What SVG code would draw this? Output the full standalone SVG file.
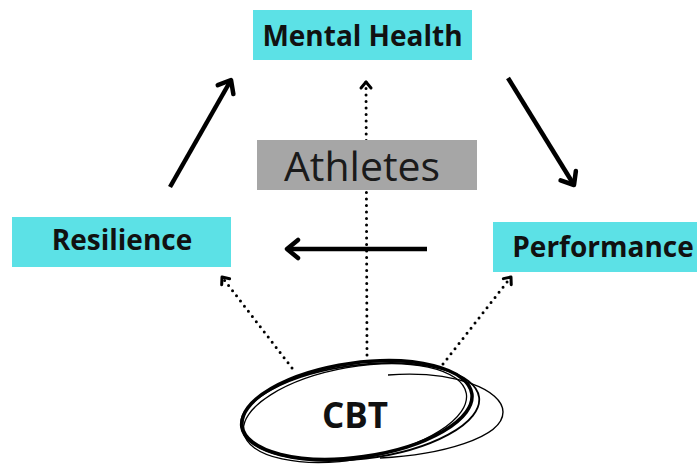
<svg xmlns="http://www.w3.org/2000/svg" width="700" height="465" viewBox="0 0 700 465">
<style>
.box{fill:#5ce1e6;}
.lbl{font-family:"Open Sans","Liberation Sans",sans-serif;font-weight:700;fill:#111;text-anchor:middle;}
.solid{stroke:#000;stroke-width:4.5;fill:none;stroke-linecap:butt;}
.dot{stroke:#000;stroke-width:3;fill:none;stroke-linecap:round;stroke-dasharray:0 6.5;}
.sk{fill:none;stroke:#000;}
</style>
<defs>
<marker id="ah" markerUnits="userSpaceOnUse" viewBox="-14 -12 18 24" markerWidth="18" markerHeight="24" refX="0" refY="0" orient="auto" overflow="visible">
<path d="M-11 -9 L0 0 L-11 9" fill="none" stroke="#000" stroke-width="4.5" stroke-linecap="round" stroke-linejoin="round"/>
</marker>
<marker id="ad" markerUnits="userSpaceOnUse" viewBox="-8 -6 10 12" markerWidth="10" markerHeight="12" refX="0" refY="0" orient="auto" overflow="visible">
<path d="M-6 -5 L0 0 L-6 5" fill="none" stroke="#000" stroke-width="3" stroke-linecap="round" stroke-linejoin="round"/>
</marker>
</defs>
<rect width="700" height="465" fill="#fff"/>
<g id="connectors">
<line class="solid" x1="170" y1="187" x2="231" y2="80" marker-end="url(#ah)"/>
<line class="solid" x1="508" y1="78" x2="574" y2="185" marker-end="url(#ah)"/>
<line class="solid" x1="427" y1="249" x2="287" y2="249" marker-end="url(#ah)"/>
<line class="dot" x1="367" y1="355" x2="366" y2="82" marker-end="url(#ad)"/>
<line class="dot" x1="292" y1="368" x2="222" y2="277" marker-end="url(#ad)"/>
<line class="dot" x1="443" y1="364" x2="511" y2="277" marker-end="url(#ad)"/>
</g>
<g id="mental-health">
<rect class="box" x="253" y="10" width="219" height="50"/>
<text class="lbl" x="362.5" y="46" font-size="28">Mental Health</text>
</g>
<g id="athletes">
<rect x="257" y="140" width="220" height="50" fill="#a6a6a6"/>
<text x="362" y="181" font-family="'Open Sans','Liberation Sans',sans-serif" font-size="41" fill="#1a1a1a" text-anchor="middle">Athletes</text>
</g>
<g id="resilience">
<rect class="box" x="12" y="217" width="219" height="50"/>
<text class="lbl" x="122" y="250" font-size="28">Resilience</text>
</g>
<g id="performance">
<rect class="box" x="493" y="222" width="204" height="50"/>
<text class="lbl" x="603" y="257" font-size="28">Performance</text>
</g>
<g id="cbt">
<ellipse class="sk" cx="357" cy="410" rx="116" ry="47" transform="rotate(-8 357 410)" stroke-width="3.5"/>
<ellipse class="sk" cx="360" cy="412" rx="120" ry="47" transform="rotate(-7 360 412)" stroke-width="1.8"/>
<ellipse class="sk" cx="355" cy="413" rx="113" ry="46" transform="rotate(-10 355 413)" stroke-width="1.3"/>
<path class="sk" stroke-width="1.4" d="M388 375 C455 370 503 390 503 412 C503 438 440 455 380 458"/>
<text class="lbl" x="355" y="428" font-size="35">CBT</text>
</g>
</svg>
